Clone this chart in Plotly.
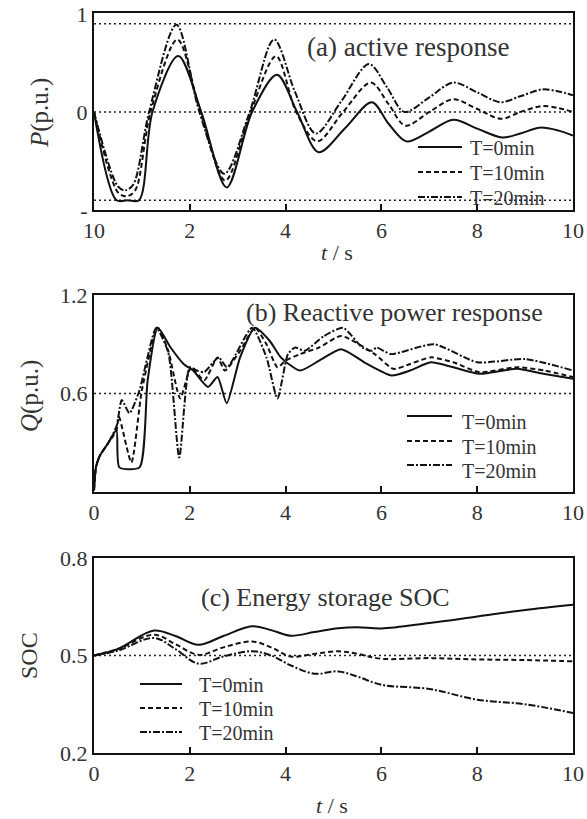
import plotly.graph_objects as go

# ---------------- data ----------------
series_names = ["T=0min", "T=10min", "T=20min"]

# (a) active power response P (p.u.)
p_t0_t = [0, 0.47, 0.70, 0.94, 1.22, 1.76, 2.24, 2.77, 3.30, 3.82, 4.24, 4.69, 5.25, 5.80, 6.15, 6.52, 7.0, 7.5, 8.0, 8.52, 8.9, 9.3, 9.7, 10]
p_t0_v = [0.0, -0.90, -0.90, -0.90, 0.0, 0.57, 0.0, -0.77, 0.0, 0.38, 0.0, -0.41, -0.16, 0.10, -0.12, -0.30, -0.20, -0.08, -0.17, -0.26, -0.22, -0.16, -0.19, -0.24]

p_t10_t = [0, 0.50, 0.68, 0.86, 1.18, 1.74, 2.22, 2.74, 3.27, 3.80, 4.22, 4.66, 5.20, 5.78, 6.15, 6.50, 7.0, 7.5, 8.0, 8.50, 8.9, 9.35, 9.7, 10]
p_t10_v = [0.0, -0.82, -0.86, -0.80, 0.0, 0.74, 0.0, -0.70, 0.0, 0.57, 0.0, -0.30, 0.0, 0.30, 0.08, -0.14, 0.0, 0.13, 0.03, -0.07, 0.0, 0.06, 0.04, 0.0]

p_t20_t = [0, 0.50, 0.65, 0.82, 1.15, 1.72, 2.20, 2.72, 3.25, 3.76, 4.20, 4.63, 5.15, 5.74, 6.12, 6.48, 7.0, 7.5, 8.0, 8.48, 8.9, 9.35, 9.7, 10]
p_t20_v = [0.0, -0.76, -0.80, -0.74, 0.0, 0.89, 0.0, -0.63, 0.0, 0.74, 0.20, -0.22, 0.10, 0.49, 0.25, 0.0, 0.15, 0.30, 0.20, 0.10, 0.16, 0.23, 0.21, 0.17]

# (b) reactive power response Q (p.u.)
q_t0_t = [0, 0.04, 0.12, 0.30, 0.47, 0.53, 0.95, 1.12, 1.33, 1.60, 1.87, 2.07, 2.38, 2.58, 2.77, 3.05, 3.36, 3.67, 3.90, 4.30, 4.70, 5.16, 5.70, 6.21, 6.60, 7.03, 7.50, 8.05, 8.83, 9.38, 10]
q_t0_v = [0.01, 0.15, 0.22, 0.30, 0.376, 0.15, 0.15, 0.68, 1.0, 0.88, 0.78, 0.74, 0.64, 0.70, 0.54, 0.82, 1.0, 0.92, 0.82, 0.74, 0.80, 0.87, 0.78, 0.71, 0.74, 0.79, 0.76, 0.72, 0.75, 0.72, 0.69]

q_t10_t = [0, 0.04, 0.12, 0.30, 0.47, 0.52, 0.78, 1.00, 1.33, 1.55, 1.80, 2.03, 2.30, 2.58, 2.73, 3.05, 3.36, 3.60, 3.83, 4.00, 4.30, 4.70, 5.16, 5.86, 6.25, 6.60, 7.03, 7.50, 8.05, 8.83, 9.40, 10]
q_t10_v = [0.01, 0.15, 0.22, 0.30, 0.376, 0.46, 0.18, 0.62, 1.0, 0.86, 0.57, 0.76, 0.68, 0.82, 0.74, 0.86, 1.0, 0.90, 0.76, 0.80, 0.84, 0.88, 0.95, 0.84, 0.75, 0.78, 0.82, 0.79, 0.73, 0.76, 0.74, 0.70]

q_t20_t = [0, 0.04, 0.12, 0.30, 0.47, 0.58, 0.74, 0.95, 1.10, 1.30, 1.55, 1.78, 2.00, 2.15, 2.30, 2.60, 2.78, 3.30, 3.60, 3.83, 4.05, 4.20, 4.40, 4.80, 5.20, 5.60, 5.80, 5.90, 6.20, 7.10, 8.00, 9.00, 10]
q_t20_v = [0.01, 0.15, 0.22, 0.30, 0.40, 0.56, 0.48, 0.62, 0.80, 1.0, 0.85, 0.21, 0.76, 0.74, 0.73, 0.82, 0.76, 1.0, 0.82, 0.57, 0.84, 0.88, 0.86, 0.95, 1.0, 0.88, 0.86, 0.88, 0.84, 0.90, 0.79, 0.81, 0.74]

# (c) energy storage SOC
soc_t = [0, 0.5, 1.25, 1.7, 2.18, 2.7, 3.3, 3.7, 4.1, 4.6, 5.1, 5.5, 6.0, 7.0, 8.0, 9.0, 10.0]
soc_t0 = [0.50, 0.52, 0.577, 0.56, 0.533, 0.56, 0.590, 0.578, 0.561, 0.572, 0.584, 0.587, 0.583, 0.600, 0.620, 0.640, 0.656]
soc_t10 = [0.50, 0.52, 0.564, 0.535, 0.502, 0.525, 0.543, 0.525, 0.497, 0.505, 0.513, 0.505, 0.490, 0.492, 0.488, 0.486, 0.482]
soc_t20 = [0.50, 0.515, 0.554, 0.52, 0.475, 0.497, 0.513, 0.500, 0.470, 0.444, 0.451, 0.435, 0.410, 0.397, 0.364, 0.350, 0.323]

# axis ticks and reference lines
x_tickvals = [0, 2, 4, 6, 8, 10]
x_ticktext_a = ["10", "2", "4", "6", "8", "10"]
x_ticktext = ["0", "2", "4", "6", "8", "10"]
p_tickvals = [1, 0, -1]
p_ticktext = ["1", "0", "-"]
q_tickvals = [1.2, 0.6]
soc_tickvals = [0.8, 0.5, 0.2]
p_reflines = [0.9, 0.0, -0.9]
q_reflines = [0.6]
soc_reflines = [0.5]

# ---------------- styling ----------------
SERIF = "Liberation Serif, Times New Roman, serif"
TXT = "#333333"
dashes = ["solid", "5px,3px", "7px,2px,2px,2px"]
W, H = 587, 819

fig = go.Figure()

def add(t, v, i, xa, ya, smooth=1.0):
    fig.add_trace(go.Scatter(
        x=t, y=v, mode="lines", name=series_names[i],
        line=dict(color="#111111", width=2, dash=dashes[i], shape="spline", smoothing=smooth),
        xaxis=xa, yaxis=ya, showlegend=False,
    ))

add(p_t0_t, p_t0_v, 0, "x", "y", 0.9)
add(p_t10_t, p_t10_v, 1, "x", "y", 0.9)
add(p_t20_t, p_t20_v, 2, "x", "y", 0.9)
add(q_t0_t, q_t0_v, 0, "x2", "y2", 0.6)
add(q_t10_t, q_t10_v, 1, "x2", "y2", 0.6)
add(q_t20_t, q_t20_v, 2, "x2", "y2", 0.6)
add(soc_t, soc_t0, 0, "x3", "y3", 1.0)
add(soc_t, soc_t10, 1, "x3", "y3", 1.0)
add(soc_t, soc_t20, 2, "x3", "y3", 1.0)

shapes = []
for ref, xr, yr in [(p_reflines, "x", "y"), (q_reflines, "x2", "y2"), (soc_reflines, "x3", "y3")]:
    for v in ref:
        shapes.append(dict(type="line", xref=f"{xr} domain", yref=yr, x0=0, x1=1, y0=v, y1=v,
                           line=dict(color="#222222", width=1.6, dash="2px,3px"), layer="below"))

def ann(text, xpx, ypx, size, angle=0, family=SERIF, xanchor="center"):
    return dict(text=text, x=xpx / W, y=1 - ypx / H, xref="paper", yref="paper", showarrow=False,
                textangle=angle, xanchor=xanchor, yanchor="middle",
                font=dict(family=family, size=size, color=TXT))

annotations = [
    ann("(a) active response", 408, 47, 27),
    ann("(b) Reactive power response", 394, 312, 26),
    ann("(c) Energy storage SOC", 325, 597, 26),
    ann("<i>P</i>(p.u.)", 40, 113, 25, -90),
    ann("<i>Q</i>(p.u.)", 30, 396, 25, -90),
    ann("SOC", 29, 655, 24, -90),
    ann("<i>t</i> / s", 337, 252, 22),
    ann("<i>t</i> / s", 332, 805, 22),
]

# legends (line sample + label), positions in pixels
legend_boxes = [
    # (line x0, line x1, text x, [row y for lines], [row y for text])
    (418, 462, 468, [147, 172, 197], [148, 173, 198]),
    (407, 452, 460, [416, 441, 465], [422, 447, 471]),
    (140, 182, 197, [684, 708, 732], [685, 709, 733]),
]
for lx0, lx1, tx, ly, ty in legend_boxes:
    for i in range(3):
        shapes.append(dict(type="line", xref="paper", yref="paper",
                           x0=lx0 / W, x1=lx1 / W, y0=1 - ly[i] / H, y1=1 - ly[i] / H,
                           line=dict(color="#111111", width=2, dash=dashes[i])))
        annotations.append(ann(series_names[i], tx, ty[i], 20, xanchor="left"))

xdom = [94 / W, 573 / W]

def ydom(top_px, bot_px):
    return [1 - bot_px / H, 1 - top_px / H]

axis_common = dict(showline=True, mirror=True, linecolor="#111111", linewidth=2,
                   showgrid=False, zeroline=False, automargin=False,
                   tickfont=dict(family=SERIF, size=22, color=TXT))

def xaxis(ticktext, anchor):
    return dict(axis_common, domain=xdom, range=[0, 10], tickvals=x_tickvals, ticktext=ticktext,
                ticks="inside", ticklen=6, tickwidth=1.5, tickcolor="#111111", anchor=anchor)

def yaxis(rng, tv, tt, dom, anchor):
    return dict(axis_common, domain=dom, range=rng, tickvals=tv, ticktext=tt, ticks="", anchor=anchor)

fig.update_layout(
    width=W, height=H, margin=dict(l=0, r=0, t=0, b=0, autoexpand=False),
    paper_bgcolor="white", plot_bgcolor="white", showlegend=False,
    xaxis=xaxis(x_ticktext_a, "y"),
    yaxis=yaxis([-1.0, 1.01], p_tickvals, p_ticktext, ydom(13, 210), "x"),
    xaxis2=xaxis(x_ticktext, "y2"),
    yaxis2=yaxis([0, 1.2], q_tickvals, ["1.2", "0.6"], ydom(295, 492), "x2"),
    xaxis3=xaxis(x_ticktext, "y3"),
    yaxis3=yaxis([0.2, 0.8], soc_tickvals, ["0.8", "0.5", "0.2"], ydom(558, 753), "x3"),
    shapes=shapes,
    annotations=annotations,
)

fig.write_html(
    "out.html",
    config={"displayModeBar": False},
    post_script="document.body.style.margin='0';document.body.style.padding='0';document.body.style.overflow='hidden';",
)
